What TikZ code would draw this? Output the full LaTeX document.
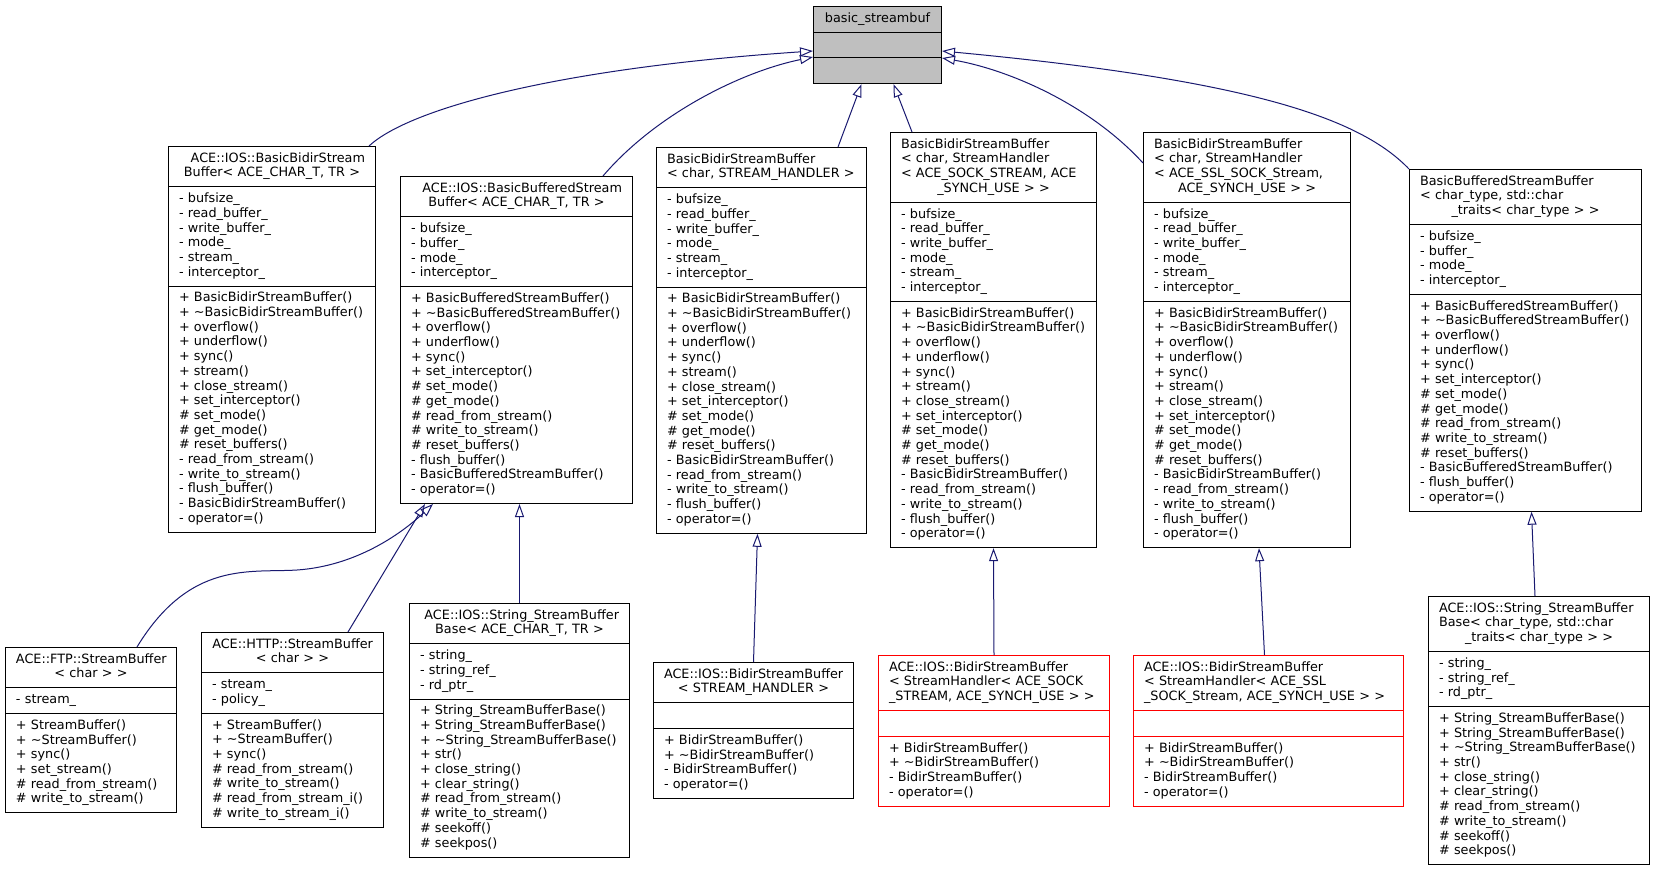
\documentclass[tikz,border=0pt]{standalone}
\usepackage{fontspec}
\setmainfont{DejaVu Sans}
\usetikzlibrary{shapes.multipart,arrows.meta}

% one section of a class box, and a centered line in it
\newcommand{\mlist}[1]{\leftskip=5.5pt\rightskip=5.5pt minus 5.5pt\strut#1\strut\par}
\newcommand{\ctr}[1]{\hspace*{\fill}#1\hspace*{\fill}}

\begin{document}
\begin{tikzpicture}[x=1pt, y=-1pt,
  font=\fontsize{12.8}{14.7}\selectfont,
  classbox/.style={rectangle split, rectangle split parts=3, draw=black, line width=1pt,
    fill=white, anchor=north west, inner xsep=5pt, inner ysep=5pt, text width=#1pt-10pt},
  inherit/.style={draw=edgeblue, line width=1pt, -{Triangle[open, length=13pt, width=9pt]}}]

  % Define colors
  \definecolor{edgeblue}{HTML}{191970}
  \definecolor{rootgray}{HTML}{BFBFBF}
  \colorlet{derivedred}{red}

  \useasboundingbox[fill=white] (0,0) rectangle (1655,869);

  % Base class
  \node[classbox=128, fill=rootgray] (streambuf) at (813,6)
    {\mlist{\ctr{basic\_streambuf}}\nodepart{two}\mlist{}\nodepart{three}\mlist{}};

  % Middle row
  \node[classbox=207] (acebidir) at (168,146)
    {\mlist{\ctr{ACE::IOS::BasicBidirStream}\\\ctr{Buffer< ACE\_CHAR\_T, TR >}}
     \nodepart{two}\mlist{- bufsize\_\\- read\_buffer\_\\- write\_buffer\_\\- mode\_\\- stream\_\\- interceptor\_}
     \nodepart{three}\mlist{+ BasicBidirStreamBuffer()\\+ \textasciitilde BasicBidirStreamBuffer()\\+ overflow()\\+ underflow()\\+ sync()\\+ stream()\\+ close\_stream()\\+ set\_interceptor()\\\# set\_mode()\\\# get\_mode()\\\# reset\_buffers()\\- read\_from\_stream()\\- write\_to\_stream()\\- flush\_buffer()\\- BasicBidirStreamBuffer()\\- operator=()}};

  \node[classbox=232] (acebuffered) at (400,176)
    {\mlist{\ctr{ACE::IOS::BasicBufferedStream}\\\ctr{Buffer< ACE\_CHAR\_T, TR >}}
     \nodepart{two}\mlist{- bufsize\_\\- buffer\_\\- mode\_\\- interceptor\_}
     \nodepart{three}\mlist{+ BasicBufferedStreamBuffer()\\+ \textasciitilde BasicBufferedStreamBuffer()\\+ overflow()\\+ underflow()\\+ sync()\\+ set\_interceptor()\\\# set\_mode()\\\# get\_mode()\\\# read\_from\_stream()\\\# write\_to\_stream()\\\# reset\_buffers()\\- flush\_buffer()\\- BasicBufferedStreamBuffer()\\- operator=()}};

  \node[classbox=210] (bidirhandler) at (656,147)
    {\mlist{BasicBidirStreamBuffer\\< char, STREAM\_HANDLER >}
     \nodepart{two}\mlist{- bufsize\_\\- read\_buffer\_\\- write\_buffer\_\\- mode\_\\- stream\_\\- interceptor\_}
     \nodepart{three}\mlist{+ BasicBidirStreamBuffer()\\+ \textasciitilde BasicBidirStreamBuffer()\\+ overflow()\\+ underflow()\\+ sync()\\+ stream()\\+ close\_stream()\\+ set\_interceptor()\\\# set\_mode()\\\# get\_mode()\\\# reset\_buffers()\\- BasicBidirStreamBuffer()\\- read\_from\_stream()\\- write\_to\_stream()\\- flush\_buffer()\\- operator=()}};

  \node[classbox=206] (bidirsock) at (890,132)
    {\mlist{BasicBidirStreamBuffer\\< char, StreamHandler\\< ACE\_SOCK\_STREAM, ACE\\\ctr{\_SYNCH\_USE > >}}
     \nodepart{two}\mlist{- bufsize\_\\- read\_buffer\_\\- write\_buffer\_\\- mode\_\\- stream\_\\- interceptor\_}
     \nodepart{three}\mlist{+ BasicBidirStreamBuffer()\\+ \textasciitilde BasicBidirStreamBuffer()\\+ overflow()\\+ underflow()\\+ sync()\\+ stream()\\+ close\_stream()\\+ set\_interceptor()\\\# set\_mode()\\\# get\_mode()\\\# reset\_buffers()\\- BasicBidirStreamBuffer()\\- read\_from\_stream()\\- write\_to\_stream()\\- flush\_buffer()\\- operator=()}};

  \node[classbox=207] (bidirssl) at (1143,132)
    {\mlist{BasicBidirStreamBuffer\\< char, StreamHandler\\< ACE\_SSL\_SOCK\_Stream,\\\ctr{ACE\_SYNCH\_USE > >}}
     \nodepart{two}\mlist{- bufsize\_\\- read\_buffer\_\\- write\_buffer\_\\- mode\_\\- stream\_\\- interceptor\_}
     \nodepart{three}\mlist{+ BasicBidirStreamBuffer()\\+ \textasciitilde BasicBidirStreamBuffer()\\+ overflow()\\+ underflow()\\+ sync()\\+ stream()\\+ close\_stream()\\+ set\_interceptor()\\\# set\_mode()\\\# get\_mode()\\\# reset\_buffers()\\- BasicBidirStreamBuffer()\\- read\_from\_stream()\\- write\_to\_stream()\\- flush\_buffer()\\- operator=()}};

  \node[classbox=232] (bufferedchar) at (1409,169)
    {\mlist{BasicBufferedStreamBuffer\\< char\_type, std::char\\\ctr{\_traits< char\_type > >}}
     \nodepart{two}\mlist{- bufsize\_\\- buffer\_\\- mode\_\\- interceptor\_}
     \nodepart{three}\mlist{+ BasicBufferedStreamBuffer()\\+ \textasciitilde BasicBufferedStreamBuffer()\\+ overflow()\\+ underflow()\\+ sync()\\+ set\_interceptor()\\\# set\_mode()\\\# get\_mode()\\\# read\_from\_stream()\\\# write\_to\_stream()\\\# reset\_buffers()\\- BasicBufferedStreamBuffer()\\- flush\_buffer()\\- operator=()}};

  % Bottom row
  \node[classbox=171] (ftpbuf) at (5,647)
    {\mlist{\ctr{ACE::FTP::StreamBuffer}\\\ctr{< char > >}}
     \nodepart{two}\mlist{- stream\_}
     \nodepart{three}\mlist{+ StreamBuffer()\\+ \textasciitilde StreamBuffer()\\+ sync()\\+ set\_stream()\\\# read\_from\_stream()\\\# write\_to\_stream()}};

  \node[classbox=182] (httpbuf) at (201,632)
    {\mlist{\ctr{ACE::HTTP::StreamBuffer}\\\ctr{< char > >}}
     \nodepart{two}\mlist{- stream\_\\- policy\_}
     \nodepart{three}\mlist{+ StreamBuffer()\\+ \textasciitilde StreamBuffer()\\+ sync()\\\# read\_from\_stream()\\\# write\_to\_stream()\\\# read\_from\_stream\_i()\\\# write\_to\_stream\_i()}};

  \node[classbox=220] (stringbase) at (409,603)
    {\mlist{\ctr{ACE::IOS::String\_StreamBuffer}\\\ctr{Base< ACE\_CHAR\_T, TR >}}
     \nodepart{two}\mlist{- string\_\\- string\_ref\_\\- rd\_ptr\_}
     \nodepart{three}\mlist{+ String\_StreamBufferBase()\\+ String\_StreamBufferBase()\\+ \textasciitilde String\_StreamBufferBase()\\+ str()\\+ close\_string()\\+ clear\_string()\\\# read\_from\_stream()\\\# write\_to\_stream()\\\# seekoff()\\\# seekpos()}};

  \node[classbox=200] (iosbidir) at (653,662)
    {\mlist{\ctr{ACE::IOS::BidirStreamBuffer}\\\ctr{< STREAM\_HANDLER >}}
     \nodepart{two}\mlist{}
     \nodepart{three}\mlist{+ BidirStreamBuffer()\\+ \textasciitilde BidirStreamBuffer()\\- BidirStreamBuffer()\\- operator=()}};

  \node[classbox=231, draw=derivedred] (iossock) at (878,655)
    {\mlist{ACE::IOS::BidirStreamBuffer\\< StreamHandler< ACE\_SOCK\\\_STREAM, ACE\_SYNCH\_USE > >}
     \nodepart{two}\mlist{}
     \nodepart{three}\mlist{+ BidirStreamBuffer()\\+ \textasciitilde BidirStreamBuffer()\\- BidirStreamBuffer()\\- operator=()}};

  \node[classbox=270, draw=derivedred] (iosssl) at (1133,655)
    {\mlist{ACE::IOS::BidirStreamBuffer\\< StreamHandler< ACE\_SSL\\\_SOCK\_Stream, ACE\_SYNCH\_USE > >}
     \nodepart{two}\mlist{}
     \nodepart{three}\mlist{+ BidirStreamBuffer()\\+ \textasciitilde BidirStreamBuffer()\\- BidirStreamBuffer()\\- operator=()}};

  \node[classbox=221] (stringchar) at (1428,596)
    {\mlist{ACE::IOS::String\_StreamBuffer\\Base< char\_type, std::char\\\ctr{\_traits< char\_type > >}}
     \nodepart{two}\mlist{- string\_\\- string\_ref\_\\- rd\_ptr\_}
     \nodepart{three}\mlist{+ String\_StreamBufferBase()\\+ String\_StreamBufferBase()\\+ \textasciitilde String\_StreamBufferBase()\\+ str()\\+ close\_string()\\+ clear\_string()\\\# read\_from\_stream()\\\# write\_to\_stream()\\\# seekoff()\\\# seekpos()}};

  % Inheritance arrows to basic_streambuf
  \draw[inherit] ([xshift=-7pt]acebidir.north east) .. controls (410,108) and (560,68) .. ([yshift=-45pt]streambuf.north west);
  \draw[inherit] ([xshift=-30pt]acebuffered.north east) .. controls (655,115) and (740,72) .. ([yshift=-51pt]streambuf.north west);
  \draw[inherit] ([xshift=-29pt]bidirhandler.north east) -- ([xshift=-16pt]streambuf.south);
  \draw[inherit] ([xshift=22pt]bidirsock.north west) -- ([xshift=16pt]streambuf.south);
  \draw[inherit] ([yshift=-31pt]bidirssl.north west) .. controls (1090,105) and (1010,70) .. ([yshift=-52pt]streambuf.north east);
  \draw[inherit] (bufferedchar.north west) .. controls (1360,118) and (1250,80) .. ([yshift=-45pt]streambuf.north east);

  % Inheritance arrows of the bottom row
  \draw[inherit] ([xshift=-40pt]ftpbuf.north east) .. controls (190,560) and (250,573) .. (297,570)
    .. controls (355,566) and (400,535) .. ([xshift=33pt]acebuffered.south west);
  \draw[inherit] ([xshift=-36pt]httpbuf.north east) -- ([xshift=25pt]acebuffered.south west);
  \draw[inherit] (stringbase.north) -- (stringbase.north |- acebuffered.south);
  \draw[inherit] (iosbidir.north) -- ([xshift=-4pt]bidirhandler.south);
  \draw[inherit] (iossock.north) -- (bidirsock.south);
  \draw[inherit] ([xshift=-4pt]iosssl.north) -- ([xshift=12pt]bidirssl.south);
  \draw[inherit] ([xshift=-4pt]stringchar.north) -- ([xshift=6pt]bufferedchar.south);

\end{tikzpicture}
\end{document}
